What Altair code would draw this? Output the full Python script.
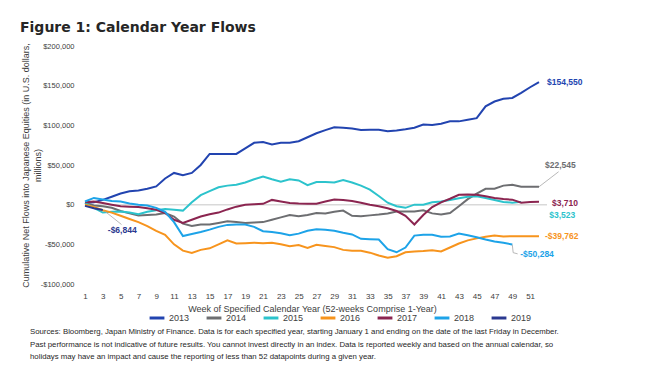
import altair as alt
import pandas as pd

WEEKS = list(range(1, 53))

Y2013 = [2000, 3000, 6000, 10000, 14000, 17000, 18000, 20000, 23000, 33000,
         40000, 37000, 40000, 50000, 64000, 64000, 64000, 64000, 71000, 78000,
         79000, 76000, 78000, 78000, 80000, 85000, 90000, 94000, 97500, 97000,
         96000, 94000, 94500, 94500, 92500, 93500, 95000, 97000, 101000, 100500,
         102000, 105000, 105000, 107000, 109000, 124000, 130000, 133500, 134500, 141000,
         148000, 154550]
Y2014 = [2000, -1000, -2000, -4000, -8000, -11000, -13500, -13000, -12500, -10500,
         -15000, -24000, -27000, -25000, -25000, -23000, -21000, -22000, -23000, -22500,
         -22000, -19000, -16000, -13000, -14500, -13000, -10500, -11000, -9000, -7500,
         -14000, -14500, -13500, -12500, -11000, -8500, -8500, -8500, -7000, -11000,
         -12500, -10500, -2000, 7000, 14000, 20000, 20000, 24000, 25000, 22500,
         22500, 22545]
Y2015 = [2000, -4000, -10000, -9000, -8500, -10000, -12000, -9000, -7000, -5500,
         -6500, -7500, 3000, 12000, 17000, 22000, 24000, 25000, 28000, 32000,
         35500, 32000, 29000, 32000, 30500, 24500, 28500, 28500, 28000, 31000,
         28000, 24000, 19000, 11000, 2500, -2000, -4000, 0, 0, 3000,
         4000, 6000, 8000, 10000, 10500, 8500, 6000, 3500, 2500, 3523]
Y2016 = [0, -3000, -7000, -10000, -14000, -18000, -22000, -27000, -33000, -38000,
         -50000, -58000, -61000, -57000, -55000, -50000, -45000, -49000, -48500, -48000,
         -48500, -48000, -50000, -52500, -51000, -54500, -50500, -52000, -53500, -57000,
         -58000, -58000, -60500, -64000, -67000, -65000, -60000, -59000, -58500, -57500,
         -59000, -54000, -49000, -45000, -42500, -40500, -39000, -40000, -39762, -39762,
         -39762, -39762]
Y2017 = [3000, 4000, 2000, 0, -2000, -2500, -3000, -4500, -6500, -10500,
         -19000, -23000, -19000, -15000, -12000, -10000, -6000, -2500, 0, 500,
         1000, 6000, 4000, 2000, 1500, 1300, 1300, 4000, 6500, 6000,
         4500, 2500, 0, -2000, -4500, -8000, -14000, -25000, -13000, -3000,
         3000, 7500, 12500, 12800, 12500, 10500, 8500, 7000, 6300, 2500,
         3500, 3710]
Y2018 = [4000, 8500, 6500, 4500, 4000, 1500, 0, -1000, -4000, -9000,
         -22000, -39500, -37000, -34500, -31500, -28000, -25500, -25000, -25000, -28000,
         -33500, -34500, -36000, -38500, -36500, -33000, -31000, -31500, -33000, -35500,
         -37500, -43000, -43500, -44000, -56000, -60000, -54000, -39000, -38000, -38000,
         -40500, -40000, -36500, -38500, -41000, -44000, -46500, -48000, -50284]
Y2019 = [-1500, -4500, -6844]

YEARS = ["2013", "2014", "2015", "2016", "2017", "2018", "2019"]
COLORS = ["#2244B0", "#6D6E71", "#2CC3CC", "#F7941D", "#8B2550", "#1DA3E8", "#2B3990"]
SERIES = [Y2013, Y2014, Y2015, Y2016, Y2017, Y2018, Y2019]

END_TEXT = ["$154,550", "$22,545", "$3,523", "-$39,762", "$3,710", "-$50,284", "-$6,844"]

X_TICKS = list(range(1, 52, 2))
Y_TICKS = list(range(-100000, 200001, 50000))

FOOTNOTE = ("Sources: Bloomberg, Japan Ministry of Finance. Data is for each specified year, starting January 1 and ending on the date of the last Friday in December.\n"
            "Past performance is not indicative of future results. You cannot invest directly in an index. Data is reported weekly and based on the annual calendar, so\n"
            "holidays may have an impact and cause the reporting of less than 52 datapoints during a given year.")

rows = []
for yr, vals in zip(YEARS, SERIES):
    for w, v in zip(WEEKS, vals):
        rows.append({"year": yr, "week": w, "value": v})
df = pd.DataFrame(rows)

ends = []
for yr, vals, t in zip(YEARS, SERIES, END_TEXT):
    ends.append({"year": yr, "week": len(vals), "value": vals[-1], "label": t})
ends = pd.DataFrame(ends)

# label placement offsets (pixels): year -> (dx, dy)
OFFS = {"2013": (8, 0), "2014": (6, -22), "2015": (28, 13), "2016": (6, 0),
        "2017": (13, 1), "2018": (8, 9), "2019": (5, 20)}

# leader lines (data units)
LEADERS = pd.DataFrame([
    {"g": "a", "o": 0, "week": 52, "value": 22545}, {"g": "a", "o": 1, "week": 54.2, "value": 41500},
    {"g": "b", "o": 0, "week": 3.2, "value": -8000}, {"g": "b", "o": 1, "week": 5.1, "value": -25000},
    {"g": "c", "o": 0, "week": 49, "value": -50284}, {"g": "c", "o": 1, "week": 49.1, "value": -60500},
    {"g": "c", "o": 2, "week": 49.6, "value": -62000},
])

FONT = "Liberation Sans Narrow, Liberation Sans, Arial"

xscale = alt.Scale(domain=[1, 52], nice=False, zero=False)
yscale = alt.Scale(domain=[-100000, 200000], nice=False)

X_AXIS = alt.Axis(values=X_TICKS, grid=False, ticks=False, domain=False,
                  labelOverlap=False, labelFlush=False, labelSeparation=0,
                  labelFontSize=8, labelFont=FONT, labelColor="#404040", labelPadding=8,
                  title="Week of Specified Calendar Year (52-weeks Comprise 1-Year)",
                  titleFontSize=9, titleFont=FONT, titleFontWeight="normal",
                  titleColor="#404040", titlePadding=4)
Y_AXIS = alt.Axis(values=Y_TICKS, grid=False, ticks=False,
                  domain=False, labelFontSize=7.5, labelFont=FONT, labelColor="#404040",
                  labelPadding=11, labelOverlap=False,
                  labelExpr="datum.value < 0 ? '-$' + format(-datum.value, ',') : '$' + format(datum.value, ',')",
                  title=["Cumulative Net Flows into Japanese Equities (in U.S. dollars,", "millions)"],
                  titleFontSize=9, titleFont=FONT, titleFontWeight="normal",
                  titleColor="#404040", titleX=-60, titleY=119, titleAlign="center",
                  titleBaseline="middle", titleLineHeight=12)


def X(field="week:Q"):
    return alt.X(field, scale=xscale, axis=X_AXIS)


def Y(field="value:Q"):
    return alt.Y(field, scale=yscale, axis=Y_AXIS)


color = alt.Color("year:N", scale=alt.Scale(domain=YEARS, range=COLORS),
                  legend=alt.Legend(title=None, orient="none", direction="horizontal",
                                    legendX=63, legendY=263, symbolType="stroke",
                                    symbolStrokeWidth=3, symbolSize=220,
                                    labelFontSize=9, labelFont=FONT, labelColor="#404040",
                                    columnPadding=10, labelOffset=3))

lines = alt.Chart(df).mark_line(strokeWidth=2).encode(
    x=X(), y=Y(), color=color, order="week:Q")

zero = alt.Chart(pd.DataFrame({"value": [0]})).mark_rule(color="#D9D9D9", strokeWidth=1.5).encode(
    y=Y(), x=alt.value(0), x2=alt.value(462))

leaders = alt.Chart(LEADERS).mark_line(color="#A6A6A6", strokeWidth=0.8).encode(
    x=X(), y=Y(), detail="g:N", order="o:Q")

label_layers = []
for yr, col in zip(YEARS, COLORS):
    dx, dy = OFFS[yr]
    label_layers.append(
        alt.Chart(ends[ends["year"] == yr]).mark_text(
            align="left", baseline="middle", dx=dx, dy=dy, fontSize=8.5, font=FONT,
            fontWeight="bold", color=col).encode(x=X(), y=Y(), text="label:N"))

foot = alt.Chart(pd.DataFrame({"t": [FOOTNOTE]})).mark_text(
    align="left", baseline="top", fontSize=7.8, font=FONT, color="#262626",
    lineBreak="\n", lineHeight=12.5).encode(
    x=alt.value(-55), y=alt.value(282), text="t:N")

chart = alt.layer(zero, lines, leaders, *label_layers, foot).properties(
    width=454, height=238,
    autosize=alt.AutoSizeParams(type="none"),
    padding={"left": 77, "top": 38, "right": 106, "bottom": 77},
    title=alt.TitleParams("Figure 1: Calendar Year Flows", anchor="start", frame="group",
                          fontSize=14, font="DejaVu Sans", fontWeight="bold", color="#262626",
                          dx=-65, offset=7),
).configure_view(stroke=None)

chart.save("out.html", embed_options={"renderer": "svg", "actions": False})
